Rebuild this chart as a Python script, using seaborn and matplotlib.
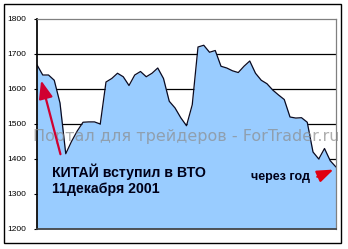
import numpy as np
import pandas as pd
import matplotlib
matplotlib.use("Agg")
import matplotlib.pyplot as plt
import seaborn as sns
from matplotlib.patches import Rectangle

# weekly values, Dec 2001 -> Dec 2002
week = list(range(53))
price = [1669, 1640, 1640, 1625, 1560, 1415, 1450, 1480, 1505, 1506,
         1506, 1500, 1620, 1630, 1645, 1635, 1610, 1640, 1650, 1635,
         1645, 1660, 1630, 1565, 1546, 1518, 1495, 1555, 1720, 1725,
         1705, 1710, 1665, 1660, 1652, 1647, 1665, 1680, 1645, 1625,
         1615, 1597, 1583, 1570, 1520, 1517, 1518, 1505, 1420, 1400,
         1430, 1395, 1377]
yticks = [1200, 1300, 1400, 1500, 1600, 1700, 1800]
note_main = "КИТАЙ вступил в ВТО\n11декабря 2001"
note_end = "через год"
watermark = "Портал для трейдеров - ForTrader.ru"

df = pd.DataFrame({"week": week, "price": price})

sns.set_theme(style="white")
plt.rcParams["font.family"] = ["Liberation Sans", "DejaVu Sans"]

fig = plt.figure(figsize=(3.48, 2.49), dpi=100)
fig.patch.set_facecolor("white")
ax = fig.add_axes([37 / 348, 20 / 249, 299 / 348, 210 / 249])
ax.set_facecolor("white")

for v in yticks[1:-1]:
    ax.axhline(v, color="black", lw=0.9, zorder=0)

ax.fill_between(df["week"], df["price"], 1200, color="#99CCFF", lw=0, zorder=1)
sns.lineplot(data=df, x="week", y="price", ax=ax, color="#0a0a20", lw=0.9, zorder=2)

ax.set_xlim(0, 52)
ax.set_ylim(1200, 1800)
ax.set_yticks(yticks)
ax.set_yticklabels([str(t) for t in yticks], fontsize=6)
ax.set_xticks([])
ax.set_xlabel("")
ax.set_ylabel("")
ax.tick_params(axis="y", direction="out", length=2.5, width=0.8, pad=5,
               colors="black", left=True)
for side in ["top", "right"]:
    ax.spines[side].set_color("#808080")
    ax.spines[side].set_linewidth(0.9)
ax.spines["left"].set_color("black")
ax.spines["bottom"].set_color("#404040")
for s in ax.spines.values():
    s.set_zorder(3)

ax.text(186 / 348, 1 - 136 / 249, watermark, transform=fig.transFigure,
        ha="center", va="center", fontsize=11.5, color="#8c8c8c", alpha=0.7,
        family=["DejaVu Sans"], zorder=5)

ax.text(2.6, 1340, note_main, fontsize=10.2, fontweight="bold", color="#000018",
        ha="left", va="center", linespacing=1.2, zorder=6)
ax.text(47.4, 1348, note_end, fontsize=9, fontweight="bold", color="#000018",
        ha="right", va="center", zorder=6)

ax.annotate("", xy=(0.6, 1632), xytext=(4.2, 1406),
            arrowprops=dict(arrowstyle="-|>,head_length=0.9,head_width=0.35",
                            color="#D00030", lw=1.6), zorder=7)
ax.annotate("", xy=(52, 1373), xytext=(48.3, 1346),
            arrowprops=dict(arrowstyle="-|>,head_length=0.8,head_width=0.3",
                            color="#E00010", lw=1.6), zorder=7, annotation_clip=False)

fig.patches.append(Rectangle((4 / 348, 6 / 249), 337 / 348, 239 / 249,
                             transform=fig.transFigure, fill=False,
                             edgecolor="black", lw=1.0))

fig.savefig("out.png", dpi=100)
